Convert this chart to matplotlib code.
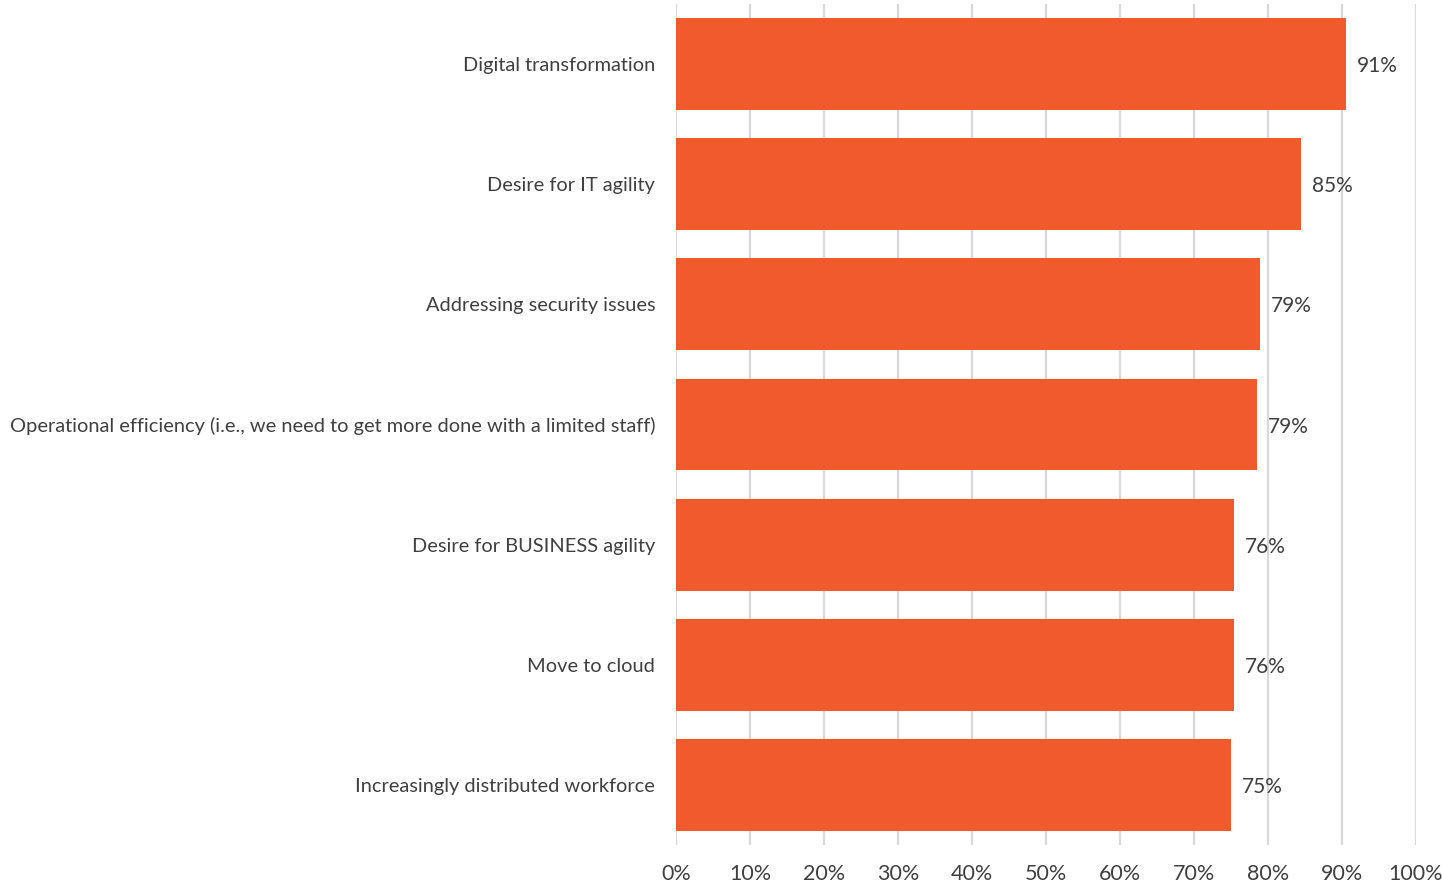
#!/usr/bin/env python3
# -*- coding: utf-8 -*-

import matplotlib

matplotlib.use("Agg")
import matplotlib.pyplot as plt
from matplotlib.ticker import FuncFormatter, MultipleLocator

# drivers, top to bottom as shown
categories = [
    "Digital transformation",
    "Desire for IT agility",
    "Addressing security issues",
    "Operational efficiency (i.e., we need to get more done with a limited staff)",
    "Desire for BUSINESS agility",
    "Move to cloud",
    "Increasingly distributed workforce",
]
values = [90.5, 84.5, 78.9, 78.5, 75.4, 75.4, 75.0]
value_labels = ["91%", "85%", "79%", "79%", "76%", "76%", "75%"]

BAR_COLOR = "#F05A2C"
GRID_COLOR = "#D9D9D9"
TEXT_COLOR = "#404040"

plt.rcParams["font.family"] = ["Lato", "DejaVu Sans"]

fig = plt.figure(figsize=(14.42, 8.86), dpi=100)
ax = fig.add_axes([676 / 1442, 1 - 845 / 886, 740 / 1442, 841 / 886])

positions = list(range(len(categories)))
ax.barh(positions, values, height=0.765, color=BAR_COLOR, zorder=3)

for pos, val, text in zip(positions, values, value_labels):
    ax.annotate(text, (val, pos), xytext=(8, 0), textcoords="offset points",
                va="center_baseline", ha="left", fontsize=15, color=TEXT_COLOR)

ax.set_xlim(0, 100)
ax.set_ylim(len(categories) - 0.5, -0.5)
ax.set_yticks(positions)
ax.set_yticklabels(categories)
ax.xaxis.set_major_locator(MultipleLocator(10))
ax.xaxis.set_major_formatter(FuncFormatter(lambda v, _: f"{v:.0f}%"))

ax.grid(True, axis="x", color=GRID_COLOR, linewidth=1.6, zorder=0)
for side in ["top", "right", "bottom", "left"]:
    ax.spines[side].set_visible(False)
ax.tick_params(axis="y", length=0, pad=15, labelsize=14.4, labelcolor=TEXT_COLOR)
ax.tick_params(axis="x", length=0, pad=14, labelsize=15.5, labelcolor=TEXT_COLOR)

fig.savefig("out.png", dpi=100)
plt.close(fig)
